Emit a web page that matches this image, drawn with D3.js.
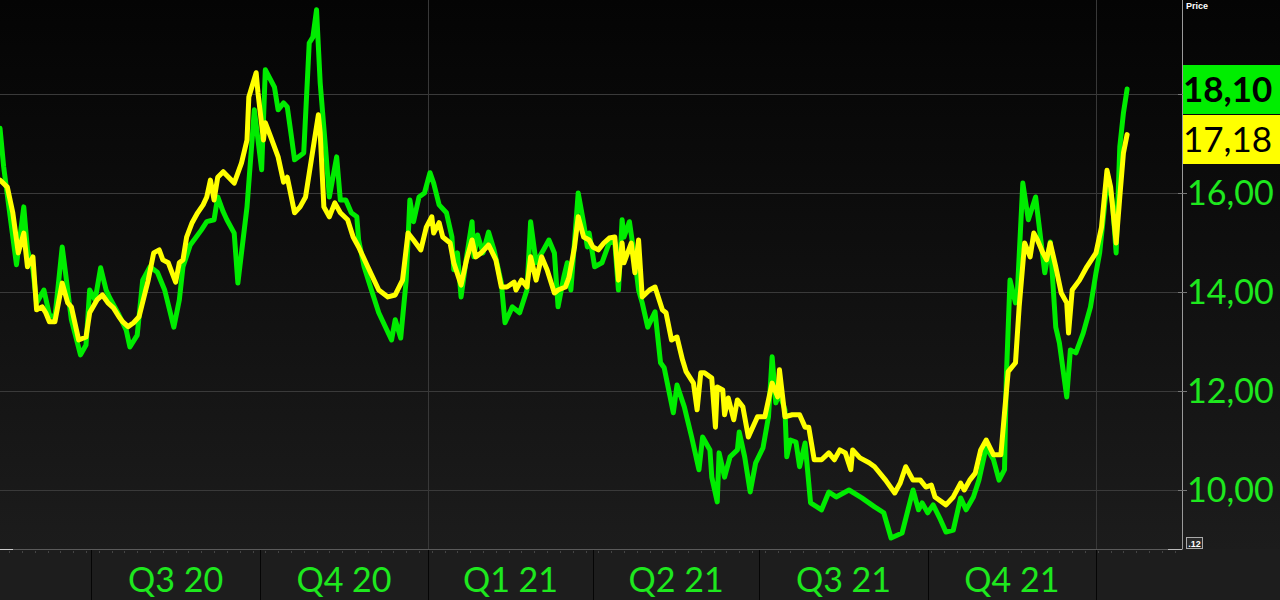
<!DOCTYPE html>
<html><head><meta charset="utf-8">
<script src="https://cdn.jsdelivr.net/npm/d3@7"></script>
<style>html,body{margin:0;padding:0;background:#000;overflow:hidden}</style>
</head><body>
<svg id="chart" width="1280" height="600"></svg>
<script>
// ---- data ----
const startDate = "2020-05-12";
const endDate = "2022-02-17";
// [day offset from startDate, price]
const greenSeries = [[0,17.31],[2,16.53],[4,15.96],[9,14.55],[13,15.72],[15,14.85],[18,14.45],[20,13.78],[24,14.04],[27,13.54],[30,13.48],[34,14.91],[37,14.04],[39,13.44],[44,12.73],[47,12.93],[49,14.04],[52,13.84],[55,14.49],[58,14.04],[60,13.88],[65,13.54],[69,13.23],[71,12.89],[75,13.13],[78,14.24],[82,14.51],[86,14.40],[90,14.04],[95,13.29],[98,13.84],[100,14.51],[104,14.95],[110,15.25],[113,15.42],[117,15.46],[119,15.92],[122,15.62],[124,15.46],[128,15.19],[130,14.18],[135,15.72],[139,17.68],[143,16.47],[145,18.49],[150,18.14],[152,17.68],[155,17.82],[157,17.74],[159,17.21],[161,16.67],[166,16.81],[169,19.03],[171,19.15],[173,19.70],[175,18.22],[178,16.87],[180,15.92],[184,16.73],[186,15.86],[189,15.86],[192,15.60],[195,15.52],[196,15.05],[199,14.51],[203,14.04],[207,13.58],[214,13.03],[216,13.44],[219,13.07],[222,14.24],[224,15.86],[226,15.42],[229,15.92],[232,16.00],[235,16.41],[237,16.20],[240,15.76],[244,15.60],[247,15.11],[248,14.45],[250,14.79],[252,13.90],[255,14.71],[258,15.42],[259,14.71],[261,15.15],[264,14.79],[267,15.21],[270,14.85],[274,14.18],[276,13.38],[280,13.70],[284,13.58],[288,14.04],[290,15.42],[293,14.59],[297,14.85],[300,15.05],[303,14.79],[305,13.70],[308,14.28],[310,14.59],[312,14.04],[316,16.00],[319,15.39],[321,14.91],[322,15.19],[325,14.51],[329,14.59],[333,15.00],[336,15.00],[338,14.04],[340,15.46],[341,15.11],[344,15.42],[347,14.65],[349,14.04],[351,13.78],[354,13.29],[358,13.60],[361,12.57],[363,12.47],[368,11.56],[370,12.12],[374,11.68],[378,11.07],[382,10.41],[384,11.07],[388,10.81],[389,10.26],[392,9.76],[393,10.75],[396,10.26],[399,10.67],[403,10.81],[404,11.17],[407,10.67],[410,9.96],[413,10.55],[417,10.85],[420,11.48],[422,12.69],[424,11.76],[426,11.96],[429,11.62],[430,10.67],[432,11.01],[435,10.97],[437,10.47],[440,10.95],[443,9.74],[449,9.60],[453,9.96],[457,9.86],[464,10.00],[471,9.84],[478,9.66],[483,9.54],[487,9.03],[493,9.13],[499,10.00],[502,9.60],[504,9.74],[507,9.54],[510,9.70],[514,9.40],[517,9.15],[521,9.19],[525,9.84],[528,9.60],[532,9.86],[535,10.20],[539,10.87],[543,10.61],[546,10.20],[549,10.41],[550,12.28],[552,14.24],[555,13.78],[556,13.98],[559,16.20],[562,15.46],[566,15.92],[568,15.31],[571,14.39],[574,15.01],[577,13.29],[579,12.97],[583,11.88],[585,12.83],[588,12.77],[592,13.17],[596,13.70],[599,14.39],[601,14.79],[604,15.86],[606,16.26],[608,15.80],[610,14.79],[611,15.86],[612,16.93],[614,17.62],[616,18.10]];
const yellowSeries = [[0,16.26],[4,16.12],[7,15.60],[10,14.79],[13,15.19],[15,14.51],[18,14.71],[20,13.64],[23,13.70],[25,13.58],[27,13.40],[30,13.40],[34,14.18],[37,13.78],[39,13.70],[43,13.03],[47,13.09],[49,13.58],[53,13.84],[56,13.94],[59,13.78],[62,13.68],[65,13.50],[67,13.40],[70,13.30],[73,13.38],[76,13.50],[81,14.24],[84,14.79],[87,14.85],[89,14.65],[92,14.59],[96,14.20],[98,14.59],[100,14.65],[102,15.11],[105,15.40],[108,15.60],[111,15.76],[113,15.92],[115,16.26],[117,15.86],[119,16.32],[122,16.43],[128,16.20],[132,16.61],[135,17.07],[136,17.94],[140,18.43],[141,18.02],[144,17.07],[145,17.42],[148,17.13],[152,16.73],[155,16.22],[157,16.32],[161,15.60],[164,15.72],[167,15.92],[171,16.87],[174,17.58],[175,17.21],[177,15.72],[180,15.52],[183,15.80],[186,15.60],[190,15.46],[193,15.11],[196,14.91],[201,14.51],[207,14.04],[212,13.90],[216,13.94],[220,14.24],[223,15.19],[226,15.05],[230,14.85],[233,15.31],[236,15.52],[237,15.19],[240,15.40],[242,15.11],[246,14.99],[248,14.59],[252,14.14],[255,14.65],[258,15.05],[260,14.71],[263,14.79],[267,14.95],[271,14.65],[274,14.10],[277,14.10],[281,14.20],[282,14.04],[285,14.24],[288,14.10],[290,14.71],[293,14.24],[296,14.71],[299,14.45],[303,13.98],[305,14.04],[309,14.10],[311,14.30],[314,14.91],[316,15.52],[319,15.11],[322,15.05],[324,14.91],[327,14.85],[330,14.99],[333,15.09],[336,15.11],[338,14.24],[340,14.99],[341,14.59],[345,14.99],[347,14.39],[349,15.05],[351,13.90],[355,14.04],[358,14.10],[362,13.64],[364,13.58],[367,13.03],[370,13.09],[373,12.63],[375,12.39],[379,12.16],[381,11.62],[383,12.37],[385,12.37],[389,12.26],[391,11.27],[392,12.08],[395,12.02],[396,11.52],[398,11.86],[401,11.42],[403,11.82],[406,11.68],[409,11.07],[414,11.48],[418,11.48],[422,12.16],[425,11.88],[426,12.43],[429,11.48],[433,11.52],[437,11.52],[440,11.27],[442,11.27],[445,10.61],[449,10.61],[453,10.75],[456,10.61],[459,10.81],[462,10.75],[465,10.41],[466,10.81],[470,10.65],[475,10.55],[478,10.47],[484,10.20],[489,9.94],[492,10.14],[495,10.47],[499,10.20],[503,10.20],[506,10.06],[509,10.10],[511,9.86],[517,9.70],[521,9.86],[525,10.14],[527,10.00],[530,10.20],[533,10.34],[536,10.81],[539,11.01],[543,10.71],[547,10.71],[549,11.56],[551,12.39],[555,12.57],[557,13.70],[560,14.99],[563,14.71],[565,15.19],[567,15.05],[570,14.79],[572,14.65],[574,14.99],[577,14.51],[580,13.98],[583,13.78],[584,13.17],[586,14.04],[590,14.24],[594,14.51],[599,14.79],[602,15.31],[605,16.46],[607,16.12],[610,14.99],[612,15.92],[614,16.81],[616,17.18]];
const yTicks = [10, 12, 14, 16, 18];
const yTickLabels = ["10,00", "12,00", "14,00", "16,00", ""];
const quarterStarts = ["2020-07-01","2020-10-01","2021-01-01","2021-04-01","2021-07-01","2021-10-01","2022-01-01"];
const quarterLabels = ["Q3 20","Q4 20","Q1 21","Q2 21","Q3 21","Q4 21"];
const yearLines = ["2021-01-01","2022-01-01"];
const lastLabels = ["18,10", "17,18"];
const lastValues = [18.10, 17.18];

// ---- setup ----
const W = 1280, H = 600, plotR = 1182, plotB = 549;
const parse = d3.timeParse("%Y-%m-%d");
const t0 = parse(startDate);
const svg = d3.select("#chart");
const x = d3.scaleTime().domain([t0, parse(endDate)]).range([0, plotR]);
const y = d3.scaleLinear().domain([10, 18]).range([490, 94]);

const defs = svg.append("defs");
const g = defs.append("linearGradient").attr("id","bg").attr("x1",0).attr("y1",0).attr("x2",0).attr("y2",1);
g.append("stop").attr("offset","0").attr("stop-color","#040404");
g.append("stop").attr("offset","0.35").attr("stop-color","#0c0c0c");
g.append("stop").attr("offset","1").attr("stop-color","#1c1c1c");
svg.append("rect").attr("width",W).attr("height",plotB).attr("fill","url(#bg)");
svg.append("rect").attr("y",plotB).attr("width",W).attr("height",H-plotB).attr("fill","#1d1d1d");

// grid
svg.append("g").selectAll("line").data(yTicks).join("line")
  .attr("x1",0).attr("x2",plotR).attr("y1",d=>y(d)).attr("y2",d=>y(d))
  .attr("stroke","#3a3a3a").attr("stroke-width",1).attr("shape-rendering","crispEdges");
svg.append("g").selectAll("line").data(yearLines).join("line")
  .attr("x1",d=>x(parse(d))).attr("x2",d=>x(parse(d))).attr("y1",0).attr("y2",plotB)
  .attr("stroke","#383838").attr("stroke-width",1).attr("shape-rendering","crispEdges");

// series
const toPts = s => s.map(([d,v]) => [d3.timeDay.offset(t0, d), v]);
const line = d3.line().x(d=>x(d[0])).y(d=>y(d[1]));
svg.append("path").datum(toPts(greenSeries)).attr("d",line)
  .attr("fill","none").attr("stroke","#00ec00").attr("stroke-width",5)
  .attr("stroke-linejoin","round").attr("stroke-linecap","round");
svg.append("path").datum(toPts(yellowSeries)).attr("d",line)
  .attr("fill","none").attr("stroke","#ffff00").attr("stroke-width",5)
  .attr("stroke-linejoin","round").attr("stroke-linecap","round");

// borders
svg.append("line").attr("x1",plotR+0.5).attr("x2",plotR+0.5).attr("y1",0).attr("y2",plotB+0.5)
  .attr("stroke","#9a9a9a").attr("stroke-width",1);
svg.append("line").attr("x1",0).attr("x2",plotR).attr("y1",plotB+0.5).attr("y2",plotB+0.5)
  .attr("stroke","#5a5a5a").attr("stroke-width",1);
svg.append("line").attr("x1",1168).attr("x2",plotR).attr("y1",plotB+0.5).attr("y2",plotB+0.5)
  .attr("stroke","#bbbbbb").attr("stroke-width",1);
svg.append("line").attr("x1",0).attr("x2",13).attr("y1",plotB+0.5).attr("y2",plotB+0.5)
  .attr("stroke","#cccccc").attr("stroke-width",1);

// right axis ticks & labels
svg.append("g").selectAll("line").data(yTicks).join("line")
  .attr("x1",plotR-4).attr("x2",plotR+5).attr("y1",d=>Math.round(y(d))+0.5).attr("y2",d=>Math.round(y(d))+0.5)
  .attr("stroke","#777").attr("stroke-width",1);
svg.append("g").selectAll("text").data(yTicks).join("text")
  .attr("x",1187).attr("y",d=>y(d)+12)
  .attr("fill","#1ee81e").attr("font-family","Lato, 'Open Sans', sans-serif").attr("font-size",34)
  .text((d,i)=>yTickLabels[i]);

svg.append("text").attr("x",1186).attr("y",9).attr("fill","#fff")
  .attr("font-family","'Liberation Sans', Arial, sans-serif").attr("font-size",9).attr("font-weight","bold").text("Price");

// last value boxes
const boxH = 49;
const gTop = Math.round(y(lastValues[0]) - boxH/2);
const yTop = Math.max(Math.round(y(lastValues[1]) - boxH/2), gTop + boxH + 1);
const boxes = [{top:gTop, fill:"#00ee00", w:"bold"}, {top:yTop, fill:"#ffff00", w:"normal"}];
boxes.forEach((b,i)=>{
  svg.append("rect").attr("x",plotR+1).attr("y",b.top).attr("width",W-plotR-1).attr("height",boxH).attr("fill",b.fill);
  svg.append("text").attr("x",1183).attr("y",b.top+boxH/2+12).attr("fill","#000")
    .attr("font-family","Lato, 'Open Sans', sans-serif").attr("font-size",35).attr("font-weight",b.w)
    .text(lastLabels[i]);
});

// small date tag
svg.append("rect").attr("x",1186.5).attr("y",537.5).attr("width",16).attr("height",11)
  .attr("fill","#2a2a2a").attr("stroke","#aaa").attr("stroke-width",1);
svg.append("text").attr("x",1194.5).attr("y",546.5).attr("text-anchor","middle").attr("fill","#fff")
  .attr("font-family","'Liberation Sans', Arial, sans-serif").attr("font-size",9).attr("font-weight","bold").text(".12");

// bottom axis: minor ticks
const weeks = d3.timeWeek.range(t0, parse(endDate));
svg.append("g").selectAll("rect").data(weeks).join("rect")
  .attr("x",d=>Math.round(x(d))).attr("y",plotB+2).attr("width",1).attr("height",2).attr("fill","#444");

// quarter separators & labels
const qs = quarterStarts.map(parse);
svg.append("g").selectAll("line").data(qs).join("line")
  .attr("x1",d=>Math.round(x(d))+0.5).attr("x2",d=>Math.round(x(d))+0.5).attr("y1",plotB+1).attr("y2",H)
  .attr("stroke","#050505").attr("stroke-width",1);
svg.append("g").selectAll("text").data(quarterLabels).join("text")
  .attr("x",(d,i)=>(x(qs[i])+x(qs[i+1]))/2).attr("y",592).attr("text-anchor","middle")
  .attr("fill","#1ee81e").attr("font-family","Lato, 'Open Sans', sans-serif").attr("font-size",34)
  .text(d=>d);
</script>
</body></html>
